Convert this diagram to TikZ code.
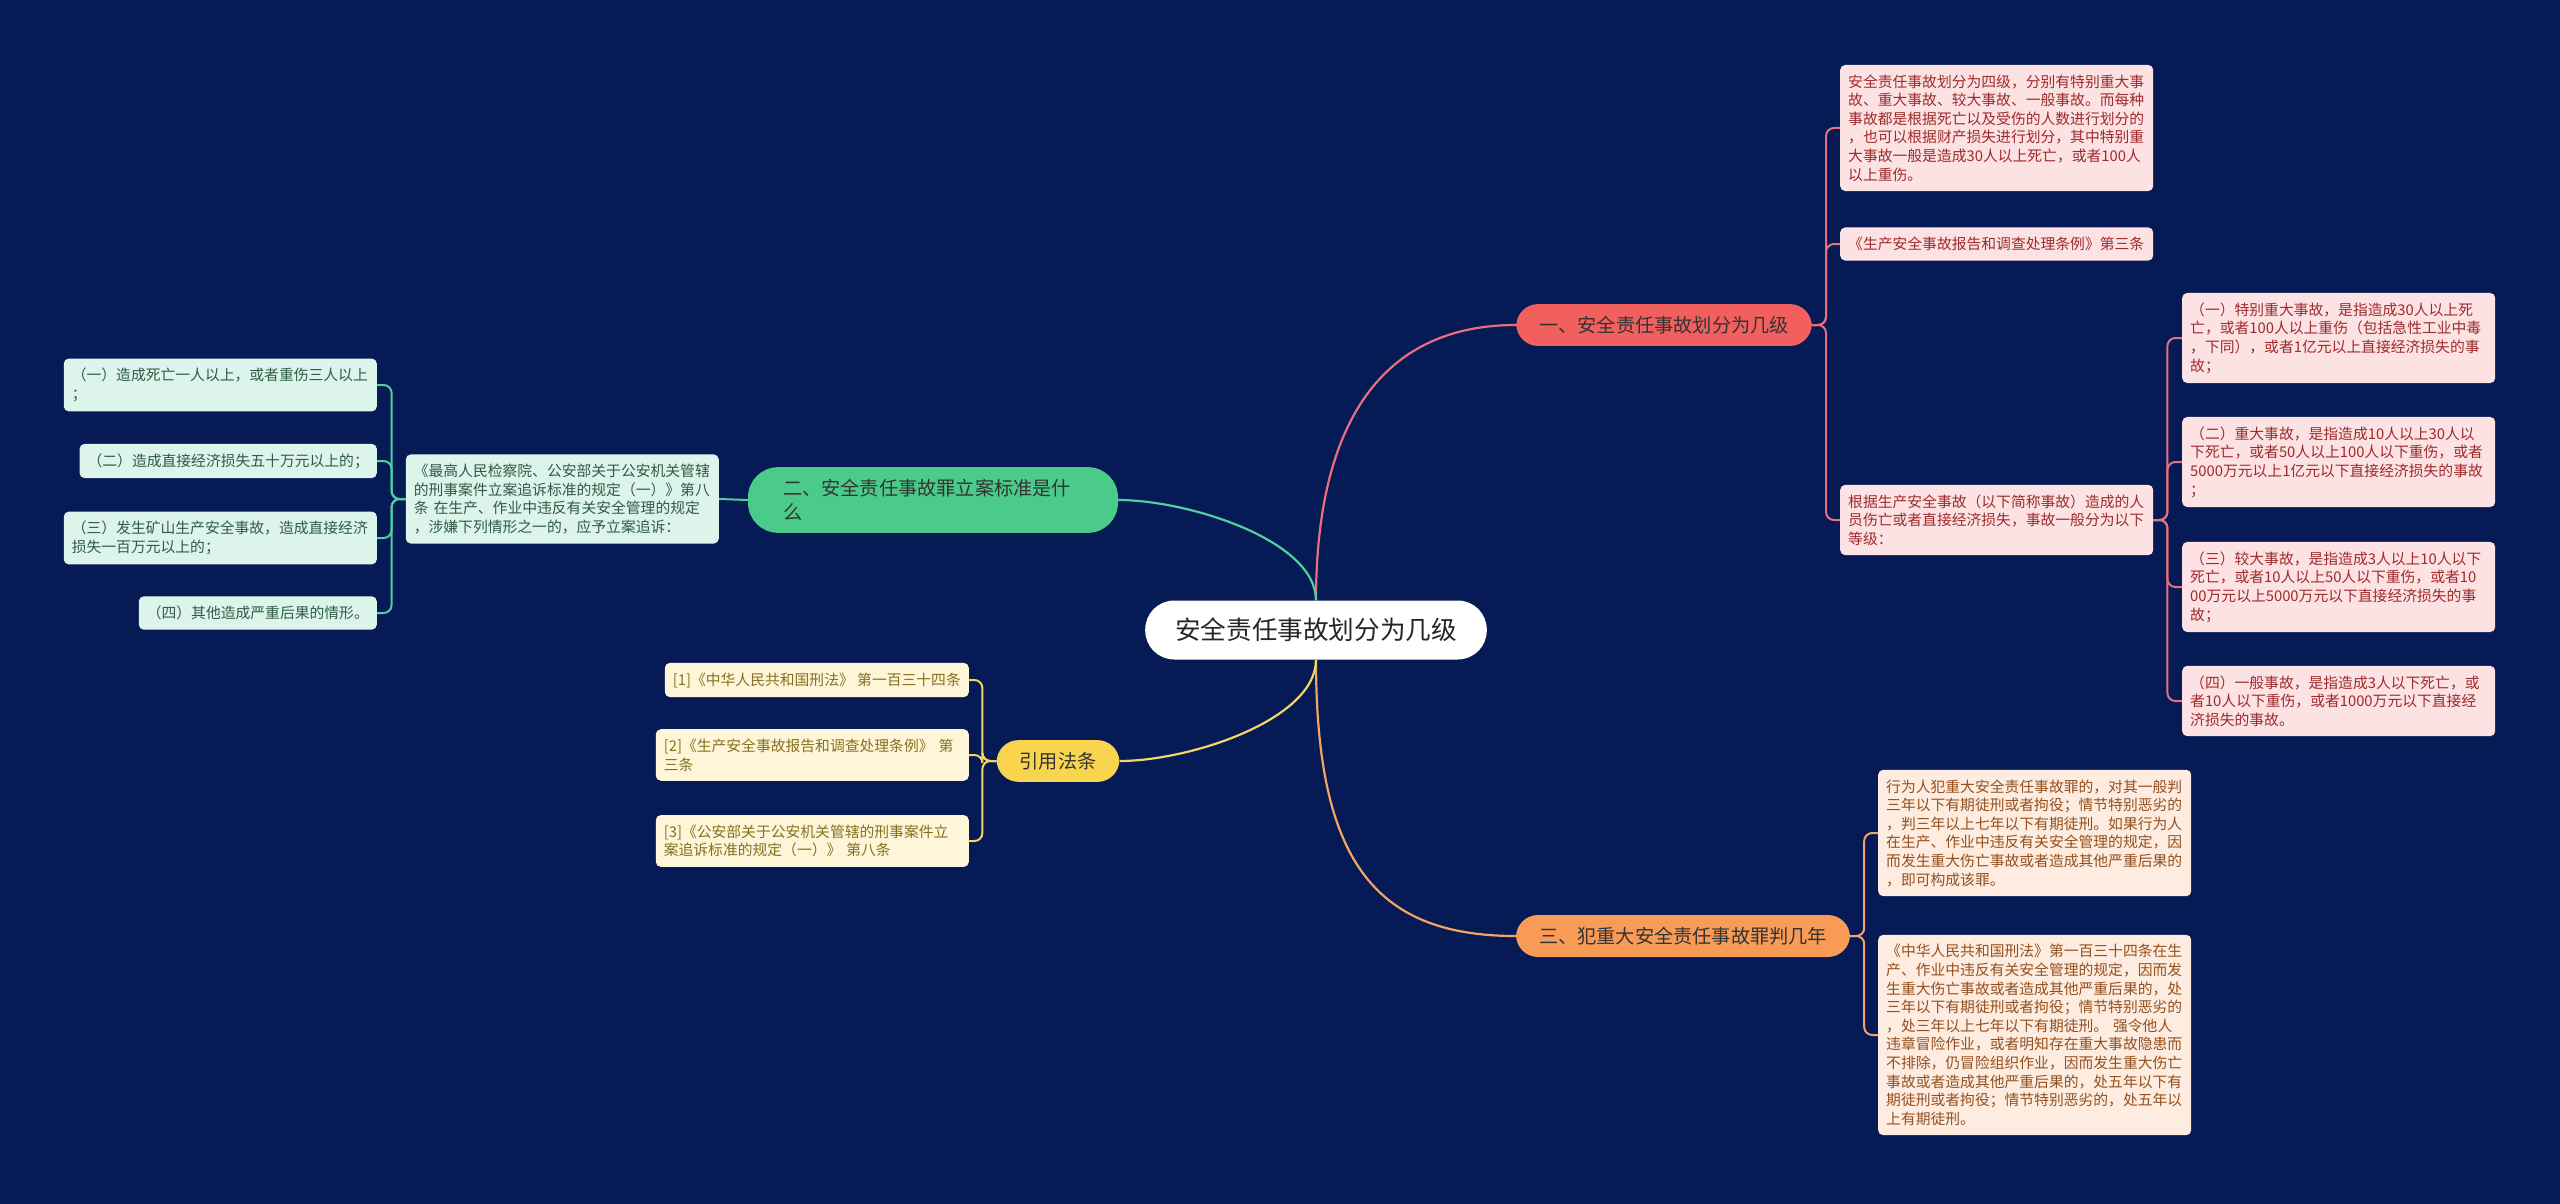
\documentclass[tikz,border=0pt]{standalone}
\usepackage{fontspec}
\setmainfont{Noto Sans CJK SC}
\usetikzlibrary{calc}

\definecolor{bg}{HTML}{061A55}
\definecolor{redA}{HTML}{F1605E}\definecolor{redL}{HTML}{FDE2E4}\definecolor{redT}{HTML}{9E2B2B}\definecolor{redW}{HTML}{E8707A}
\definecolor{grnA}{HTML}{4BCB8A}\definecolor{grnL}{HTML}{DDF4EA}\definecolor{grnT}{HTML}{2E5B48}\definecolor{grnW}{HTML}{52CFA0}
\definecolor{orgA}{HTML}{F79B57}\definecolor{orgL}{HTML}{FDECDF}\definecolor{orgT}{HTML}{94501F}\definecolor{orgW}{HTML}{F3A467}
\definecolor{ylwA}{HTML}{F9D44E}\definecolor{ylwL}{HTML}{FFF6DA}\definecolor{ylwT}{HTML}{86701F}\definecolor{ylwW}{HTML}{F0D569}

\tikzset{
  leaf/.style={fill=#1, rounded corners=5pt, inner xsep=8pt, inner ysep=9.6pt, align=left,
    font=\fontsize{14.8}{18.6}\selectfont},
  wrap/.style={text width=297pt},
  branch/.style={fill=#1, rounded corners=22pt, inner xsep=23pt, inner ysep=12pt, align=left,
    text=black!80, font=\fontsize{19.2}{24}\selectfont},
  link/.style={draw=#1, line width=2pt, rounded corners=8pt},
  twig/.style={draw=#1, line width=2.2pt}
}

\begin{document}
\begin{tikzpicture}[x=1pt,y=-1pt]
  \useasboundingbox (0,0) rectangle (2560,1204);
  \fill[bg] (0,0) rectangle (2560,1204);

  % root and main branches
  \node[fill=white, rounded corners=29pt, minimum height=59pt, inner xsep=30pt, text=black!85,
    font=\fontsize{25.6}{30}\selectfont] (root) at (1316,630) {安全责任事故划分为几级};
  \node[branch=redA] (b1) at (1664,325) {一、安全责任事故划分为几级};
  \node[branch=grnA, inner xsep=35pt, rounded corners=30pt, text width=300pt] (b2) at (933,500) {二、安全责任事故罪立案标准是什\\么};
  \node[branch=orgA] (b3) at (1683,936) {三、犯重大安全责任事故罪判几年};
  \node[branch=ylwA] (b4) at (1058,761) {引用法条};

  \draw[twig=redW] (root.north) .. controls +(0,-166) and +(-142,0) .. (b1.west);
  \draw[twig=grnW] (root.north) .. controls +(0,-60) and +(70,0) .. (b2.east);
  \draw[twig=orgW] (root.south) .. controls +(0,200) and +(-142,0) .. (b3.west);
  \draw[twig=ylwW] (root.south) .. controls +(0,60) and +(70,0) .. (b4.east);

  % branch 1
  \node[leaf=redL, wrap, text=redT, anchor=west] (L1a) at (1840,128) {安全责任事故划分为四级，分别有特别重大事\\故、重大事故、较大事故、一般事故。而每种\\事故都是根据死亡以及受伤的人数进行划分的\\，也可以根据财产损失进行划分，其中特别重\\大事故一般是造成30人以上死亡，或者100人\\以上重伤。};
  \node[leaf=redL, wrap, text=redT, anchor=west] (L1b) at (1840,244) {《生产安全事故报告和调查处理条例》第三条};
  \node[leaf=redL, wrap, text=redT, anchor=west] (L1c) at (1840,520) {根据生产安全事故（以下简称事故）造成的人\\员伤亡或者直接经济损失，事故一般分为以下\\等级：};
  \node[leaf=redL, wrap, text=redT, anchor=west] (c1) at (2182,338) {（一）特别重大事故，是指造成30人以上死\\亡，或者100人以上重伤（包括急性工业中毒\\，下同），或者1亿元以上直接经济损失的事\\故；};
  \node[leaf=redL, wrap, text=redT, anchor=west] (c2) at (2182,462) {（二）重大事故，是指造成10人以上30人以\\下死亡，或者50人以上100人以下重伤，或者\\5000万元以上1亿元以下直接经济损失的事故\\；};
  \node[leaf=redL, wrap, text=redT, anchor=west] (c3) at (2182,587) {（三）较大事故，是指造成3人以上10人以下\\死亡，或者10人以上50人以下重伤，或者10\\00万元以上5000万元以下直接经济损失的事\\故；};
  \node[leaf=redL, wrap, text=redT, anchor=west] (c4) at (2182,701) {（四）一般事故，是指造成3人以下死亡，或\\者10人以下重伤，或者1000万元以下直接经\\济损失的事故。};
  \foreach \n in {L1a,L1b,L1c} \draw[link=redW] (b1.east) -- ++(14,0) |- (\n.west);
  \foreach \n in {c1,c2,c3,c4} \draw[link=redW] (L1c.east) -- ++(14,0) |- (\n.west);

  % branch 3
  \node[leaf=orgL, wrap, text=orgT, anchor=west] (L3a) at (1878,833) {行为人犯重大安全责任事故罪的，对其一般判\\三年以下有期徒刑或者拘役；情节特别恶劣的\\，判三年以上七年以下有期徒刑。如果行为人\\在生产、作业中违反有关安全管理的规定，因\\而发生重大伤亡事故或者造成其他严重后果的\\，即可构成该罪。};
  \node[leaf=orgL, wrap, text=orgT, anchor=west] (L3b) at (1878,1035) {《中华人民共和国刑法》第一百三十四条在生\\产、作业中违反有关安全管理的规定，因而发\\生重大伤亡事故或者造成其他严重后果的，处\\三年以下有期徒刑或者拘役；情节特别恶劣的\\，处三年以上七年以下有期徒刑。 强令他人\\违章冒险作业，或者明知存在重大事故隐患而\\不排除，仍冒险组织作业，因而发生重大伤亡\\事故或者造成其他严重后果的，处五年以下有\\期徒刑或者拘役；情节特别恶劣的，处五年以\\上有期徒刑。};
  \foreach \n in {L3a,L3b} \draw[link=orgW] (b3.east) -- ++(14,0) |- (\n.west);

  % branch 2
  \node[leaf=grnL, wrap, text=grnT, anchor=east] (L2m) at (719,499) {《最高人民检察院、公安部关于公安机关管辖\\的刑事案件立案追诉标准的规定（一）》第八\\条 在生产、作业中违反有关安全管理的规定\\，涉嫌下列情形之一的，应予立案追诉：};
  \node[leaf=grnL, wrap, text=grnT, anchor=east] (g1) at (377,385) {（一）造成死亡一人以上，或者重伤三人以上\\；};
  \node[leaf=grnL, text=grnT, anchor=east] (g2) at (377,461) {（二）造成直接经济损失五十万元以上的；};
  \node[leaf=grnL, wrap, text=grnT, anchor=east] (g3) at (377,538) {（三）发生矿山生产安全事故，造成直接经济\\损失一百万元以上的；};
  \node[leaf=grnL, text=grnT, anchor=east] (g4) at (377,613) {（四）其他造成严重后果的情形。};
  \draw[link=grnW] (b2.west) -- (L2m.east);
  \foreach \n in {g1,g2,g3,g4} \draw[link=grnW] (L2m.west) -- ++(-14,0) |- (\n.east);

  % branch 4
  \node[leaf=ylwL, text=ylwT, anchor=east] (r1) at (969,680) {[1]《中华人民共和国刑法》 第一百三十四条};
  \node[leaf=ylwL, wrap, text=ylwT, anchor=east] (r2) at (969,755) {[2]《生产安全事故报告和调查处理条例》 第\\三条};
  \node[leaf=ylwL, wrap, text=ylwT, anchor=east] (r3) at (969,841) {[3]《公安部关于公安机关管辖的刑事案件立\\案追诉标准的规定（一）》 第八条};
  \foreach \n in {r1,r2,r3} \draw[link=ylwW] (b4.west) -- ++(-14,0) |- (\n.east);
\end{tikzpicture}
\end{document}
